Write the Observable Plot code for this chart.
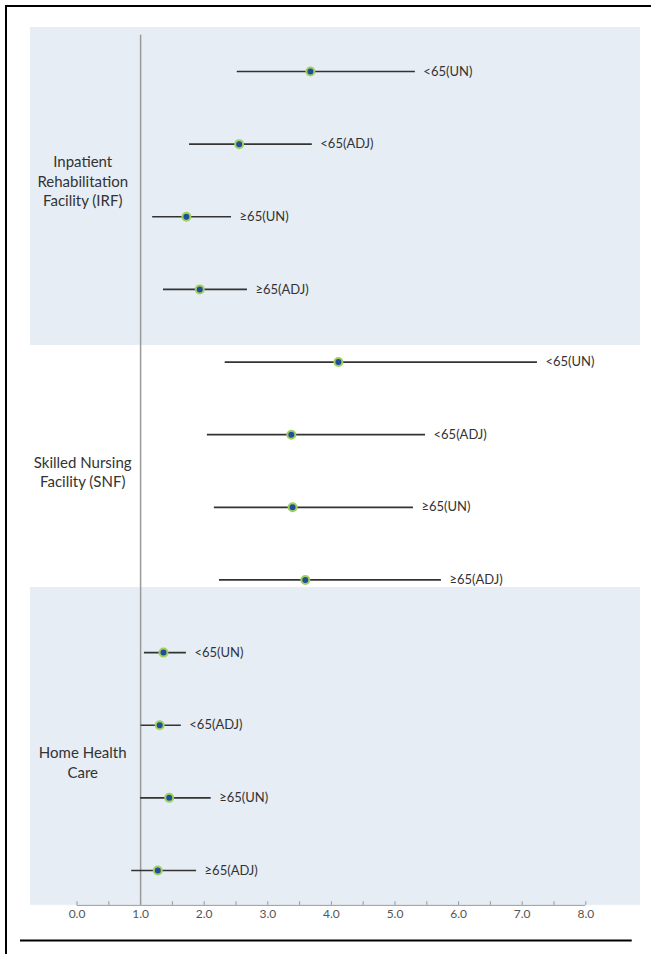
<!DOCTYPE html>
<html><head><meta charset="utf-8">
<script src="https://cdn.jsdelivr.net/npm/d3@7"></script>
<script src="https://cdn.jsdelivr.net/npm/@observablehq/plot@0.6"></script>
<style>
body{margin:0;background:#fff}
#chart{position:absolute;left:0;top:0}
#frame{position:absolute;left:5px;top:5px;width:646px;height:949px;border-top:2px solid #000;border-left:2px solid #000;pointer-events:none}
</style>
</head><body><div id="chart"></div><div id="frame"></div>
<script>
const groups = ["Inpatient\nRehabilitation\nFacility (IRF)", "Skilled Nursing\nFacility (SNF)", "Home Health\nCare"];
const subgroups = ["<65(UN)", "<65(ADJ)", "≥65(UN)", "≥65(ADJ)"];
const estimate = [3.67, 2.55, 1.72, 1.93, 4.11, 3.37, 3.39, 3.59, 1.36, 1.30, 1.45, 1.27];
const lower    = [2.52, 1.77, 1.19, 1.36, 2.33, 2.05, 2.16, 2.24, 1.06, 1.01, 1.00, 0.86];
const upper    = [5.32, 3.70, 2.43, 2.68, 7.24, 5.48, 5.29, 5.73, 1.72, 1.64, 2.11, 1.88];
const xTicks = [0, 1, 2, 3, 4, 5, 6, 7, 8];
const minorTicks = [0, 0.5, 1, 1.5, 2, 2.5, 3, 3.5, 4, 4.5, 5, 5.5, 6, 6.5, 7, 7.5, 8];
const refValue = 1;

const rows = estimate.map((e, i) => ({
  row: i, group: groups[Math.floor(i / 4)], label: subgroups[i % 4],
  est: e, lo: lower[i], hi: upper[i]
}));
const groupRows = groups.map((g, gi) => ({text: g, row: gi * 4 + 1.5}));
const bands = [{y1: 0 - 0.606, y2: 3 + 0.772}, {y1: 8 - 0.896, y2: 11 + 0.48}];
const axisY = 11.48;

const chart = Plot.plot({
  width: 651,
  height: 954,
  marginLeft: 76.5,
  marginRight: 65.7,
  marginTop: 30,
  marginBottom: 49,
  x: {domain: [0, 8]},
  y: {type: "linear", domain: [0, 11], range: [71, 870], axis: null},
  style: {fontFamily: "Lato, 'Open Sans', sans-serif", fontSize: "13px", background: "white", overflow: "visible"},
  marks: [
    Plot.rect(bands, {x1: -0.731, x2: 8.86, y1: "y1", y2: "y2", fill: "#e6edf5"}),
    Plot.ruleX([refValue], {x: d => d, y1: -0.5, y2: axisY, stroke: "#9a9a9a", strokeWidth: 1.5}),
    Plot.ruleY([axisY], {y: d => d, x1: 0, x2: 8, stroke: "#999", strokeWidth: 1}),
    Plot.ruleX(minorTicks, {x: d => d, y1: axisY, y2: axisY - 0.05, stroke: "#999", strokeWidth: 1}),
    Plot.axisX(xTicks, {tickFormat: d => d.toFixed(1), tickSize: 0, tickPadding: 4, fontSize: 12, fill: "#555"}),
    Plot.ruleY(rows, {y: "row", x1: "lo", x2: "hi", stroke: "#333", strokeWidth: 1.7}),
    Plot.dot(rows, {x: "est", y: "row", r: 4, fill: "#1d4f9c", stroke: "#a4cf5c", strokeWidth: 2}),
    Plot.text(rows, {x: "hi", y: "row", text: "label", dx: 8, textAnchor: "start", fontSize: 13, fill: "#333"}),
    Plot.text(groupRows, {x: 0.09, y: "row", text: "text", textAnchor: "middle", fontSize: 15, lineHeight: 1.3, fill: "#333"}),
    Plot.ruleY([11.963], {y: d => d, x1: -0.888, x2: 8.73, stroke: "#000", strokeWidth: 2})
  ]
});
document.getElementById("chart").appendChild(chart);
</script>
</body></html>
